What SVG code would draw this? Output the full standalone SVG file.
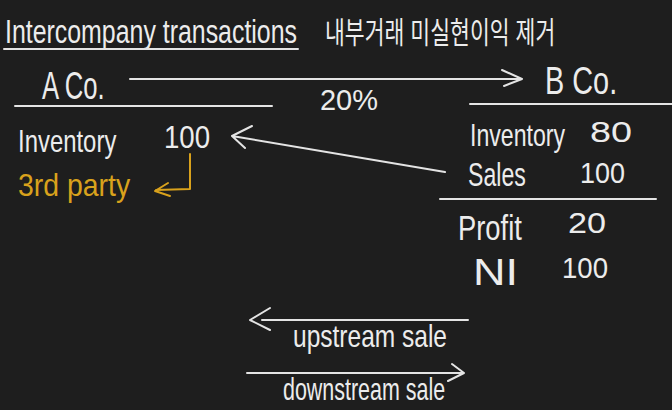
<svg xmlns="http://www.w3.org/2000/svg" width="672" height="410" viewBox="0 0 672 410">
<defs>
<style>
.t{font-family:"Liberation Sans","Noto Sans CJK KR",sans-serif;fill:#ececec}
.y{fill:#d9a21c}
.ln{stroke:#e4e4e4;stroke-width:2;fill:none;stroke-linecap:round;stroke-linejoin:round}
.yl{stroke:#d9a21c;stroke-width:2;fill:none;stroke-linecap:round;stroke-linejoin:round}
</style>
</defs>
<rect width="672" height="410" fill="#1e1e1e"/>
<g id="title">
<text class="t" transform="translate(5,43) scale(0.73,1)" font-size="34" textLength="400" lengthAdjust="spacingAndGlyphs">Intercompany transactions</text>
<text class="t" transform="translate(325,43) scale(0.75,1)" font-size="30" textLength="307" lengthAdjust="spacingAndGlyphs">내부거래 미실현이익 제거</text>
</g>
<g id="aco">
<text class="t" transform="translate(42,99) scale(0.66,1)" font-size="38" textLength="95" lengthAdjust="spacingAndGlyphs">A Co.</text>
<text class="t" transform="translate(18,152) scale(0.745,1)" font-size="32" textLength="132" lengthAdjust="spacingAndGlyphs">Inventory</text>
<text class="t" transform="translate(164,148) scale(0.87,1)" font-size="32" textLength="53" lengthAdjust="spacingAndGlyphs">100</text>
</g>
<g id="third-party">
<text class="t y" transform="translate(18,196) scale(0.89,1)" font-size="32" textLength="126" lengthAdjust="spacingAndGlyphs">3rd party</text>
</g>
<g id="bco">
<text class="t" transform="translate(545,94) scale(0.76,1)" font-size="38" textLength="95" lengthAdjust="spacingAndGlyphs">B Co.</text>
<text class="t" transform="translate(470,146) scale(0.72,1)" font-size="32" textLength="132" lengthAdjust="spacingAndGlyphs">Inventory</text>
<text class="t" x="590" y="142" font-size="30" textLength="42" lengthAdjust="spacingAndGlyphs">80</text>
<text class="t" transform="translate(468,186) scale(0.68,1)" font-size="34" textLength="85" lengthAdjust="spacingAndGlyphs">Sales</text>
<text class="t" x="580" y="183" font-size="30" textLength="45" lengthAdjust="spacingAndGlyphs">100</text>
<text class="t" transform="translate(458,240) scale(0.76,1)" font-size="36" textLength="84" lengthAdjust="spacingAndGlyphs">Profit</text>
<text class="t" x="568" y="233" font-size="30" textLength="38" lengthAdjust="spacingAndGlyphs">20</text>
<text class="t" x="473" y="285" font-size="36" textLength="45" lengthAdjust="spacingAndGlyphs">NI</text>
<text class="t" x="562" y="278" font-size="30" textLength="46" lengthAdjust="spacingAndGlyphs">100</text>
</g>
<g id="pct">
<text class="t" x="320" y="110" font-size="30" textLength="58" lengthAdjust="spacingAndGlyphs">20%</text>
</g>
<g id="legend">
<text class="t" transform="translate(293,347) scale(0.77,1)" font-size="32" textLength="200" lengthAdjust="spacingAndGlyphs">upstream sale</text>
<text class="t" transform="translate(283,400) scale(0.67,1)" font-size="32" textLength="242" lengthAdjust="spacingAndGlyphs">downstream sale</text>
</g>
<g id="connectors">
<path class="ln" d="M4 49 H298"/>
<path class="ln" d="M130 79 H522 M502 70 L522 79 L504 86"/>
<path class="ln" d="M15 106 H272"/>
<path class="ln" d="M470 104 H672"/>
<path class="ln" d="M445 172 L232 136 M252 126 L232 136 L245 148"/>
<path class="ln" d="M440 199 H656"/>
<path class="yl" d="M190 154 V189 L156 190 M168 183 L155 191 L170 196"/>
<path class="ln" d="M468 320 H262 M270 308 L250 320 L270 330"/>
<path class="ln" d="M247 373 H462 M452 364 L464 373 L448 381"/>
</g>
</svg>
